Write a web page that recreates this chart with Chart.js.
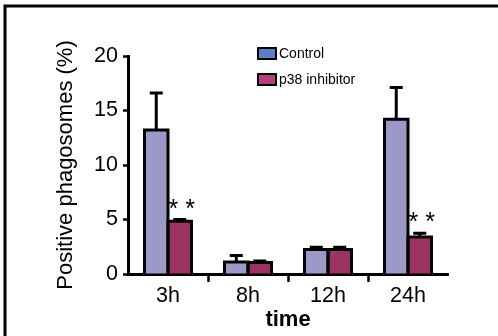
<!DOCTYPE html>
<html>
<head>
<meta charset="utf-8">
<script src="https://cdn.jsdelivr.net/npm/chart.js@4/dist/chart.umd.min.js"></script>
<style>
  html, body { margin: 0; padding: 0; background: #fff; }
  #wrap { width: 498px; height: 336px; position: relative; }
</style>
</head>
<body>
<div id="wrap"><canvas id="c" width="498" height="336"></canvas></div>
<script>
// ---- data ----
const categories = ['3h', '8h', '12h', '24h'];
const seriesNames = ['Control', 'p38 inhibitor'];
const controlValues = [13.2, 1.1, 2.25, 14.2];
const controlErrors = [3.4, 0.6, 0.2, 2.9];
const p38Values = [4.85, 1.05, 2.25, 3.4];
const p38Errors = [0.15, 0.15, 0.2, 0.35];
const p38Significance = ['* *', '', '', '* *'];
const yTicks = [0, 5, 10, 15, 20];
const yTitle = 'Positive phagosomes (%)';
const xTitle = 'time';

const FONT = '"Liberation Sans", Arial, Helvetica, sans-serif';
const barColors = ['#9c99c9', '#9a3464'];
const legendColors = ['#5b7fc6', '#b4407f'];
const errorsBySeries = [controlErrors, p38Errors];
const marksBySeries = [null, p38Significance];

const decorPlugin = {
  id: 'decor',
  beforeDraw(chart) {
    const ctx = chart.ctx;
    ctx.save();
    ctx.strokeStyle = '#000';
    ctx.lineWidth = 3;
    ctx.beginPath();
    ctx.moveTo(5, 340);
    ctx.lineTo(5, 6);
    ctx.lineTo(502, 6);
    ctx.stroke();
    ctx.restore();
  },
  afterDatasetsDraw(chart) {
    const ctx = chart.ctx;
    const y = chart.scales.y;
    ctx.save();
    ctx.strokeStyle = '#000';
    ctx.fillStyle = '#000';
    ctx.lineWidth = 3;
    ctx.lineJoin = 'miter';
    chart.data.datasets.forEach((ds, di) => {
      const meta = chart.getDatasetMeta(di);
      const errs = errorsBySeries[di];
      meta.data.forEach((bar, i) => {
        // bar outline (left, top, right)
        const l = bar.x - bar.width / 2, r = bar.x + bar.width / 2;
        ctx.beginPath();
        ctx.moveTo(l, bar.base);
        ctx.lineTo(l, bar.y);
        ctx.lineTo(r, bar.y);
        ctx.lineTo(r, bar.base);
        ctx.stroke();
        // error bar (upper)
        const top = y.getPixelForValue(ds.data[i] + errs[i]);
        ctx.beginPath();
        ctx.moveTo(bar.x, bar.y);
        ctx.lineTo(bar.x, top);
        ctx.moveTo(bar.x - 6.5, top);
        ctx.lineTo(bar.x + 6.5, top);
        ctx.stroke();
        const marks = marksBySeries[di];
        if (marks && marks[i]) {
          ctx.font = '25px ' + FONT;
          ctx.textAlign = 'center';
          ctx.textBaseline = 'alphabetic';
          ctx.fillText(marks[i], bar.x + 2, top - 3);
        }
      });
    });
    // legend
    const lx = chart.chartArea.left + 130;
    const ly = [48, 74];
    ctx.font = '14px ' + FONT;
    ctx.textAlign = 'left';
    ctx.textBaseline = 'middle';
    seriesNames.forEach((name, k) => {
      ctx.fillStyle = legendColors[k];
      ctx.fillRect(lx, ly[k], 18, 11);
      ctx.lineWidth = 2;
      ctx.strokeStyle = '#000';
      ctx.strokeRect(lx, ly[k], 18, 11);
      ctx.fillStyle = '#000';
      ctx.fillText(name, lx + 21, ly[k] + 6);
    });
    ctx.restore();
  }
};

new Chart(document.getElementById('c'), {
  type: 'bar',
  data: {
    labels: categories,
    datasets: [
      { label: seriesNames[0], data: controlValues, backgroundColor: barColors[0], borderWidth: 0 },
      { label: seriesNames[1], data: p38Values, backgroundColor: barColors[1], borderWidth: 0 }
    ]
  },
  options: {
    responsive: false,
    animation: false,
    devicePixelRatio: 1,
    layout: { padding: { left: 48, top: 56, right: 50, bottom: 0 } },
    datasets: { bar: { categoryPercentage: 0.5875, barPercentage: 1.0 } },
    plugins: { legend: { display: false }, tooltip: { enabled: false } },
    scales: {
      x: {
        z: 1,
        afterFit(s) { s.height = 62; },
        grid: {
          drawOnChartArea: false, drawTicks: true, tickLength: 8, tickWidth: 2.5,
          tickColor: (c) => (c.index === undefined || c.index === 0) ? 'rgba(0,0,0,0)' : '#000'
        },
        border: { display: true, color: '#000', width: 3 },
        ticks: { color: '#000', font: { family: FONT, size: 21.5 }, padding: 1 },
        title: { display: true, text: xTitle, color: '#000',
                 font: { family: FONT, size: 22, weight: 'bold' }, padding: { top: 0, bottom: 3 } }
      },
      y: {
        min: 0, max: 20,
        afterFit(s) { s.width = 80; },
        afterBuildTicks(s) { s.ticks = yTicks.map(v => ({ value: v })); },
        grid: { drawOnChartArea: false, drawTicks: true, tickLength: 5, tickWidth: 2.5, tickColor: '#000' },
        border: { display: true, color: '#000', width: 3 },
        ticks: { color: '#000', font: { family: FONT, size: 21.5 }, padding: 5 },
        title: { display: true, text: yTitle, color: '#000',
                 font: { family: FONT, size: 22 }, padding: { top: 5, bottom: 0 } }
      }
    }
  },
  plugins: [decorPlugin]
});
</script>
</body>
</html>
